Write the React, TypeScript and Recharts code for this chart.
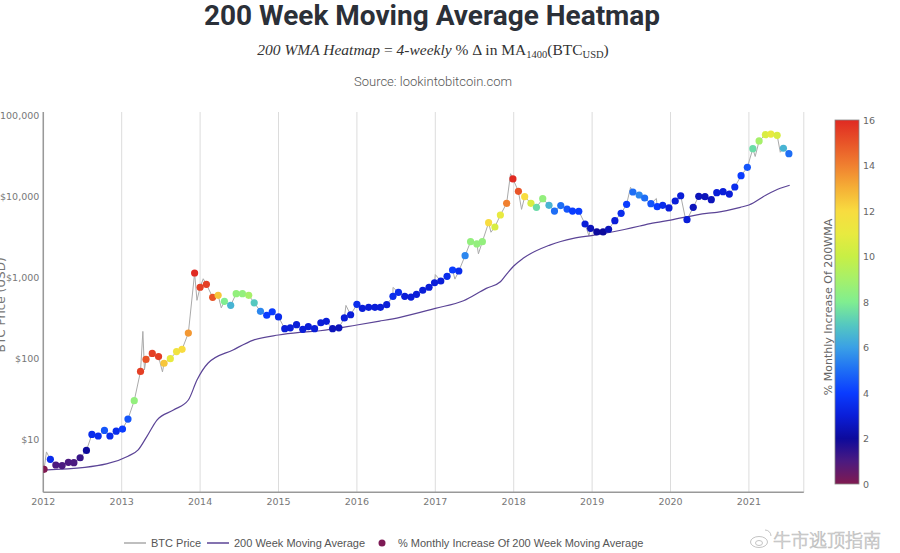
import { ComposedChart, Line, Scatter, XAxis, YAxis, CartesianGrid, Cell } from 'recharts'

// 4-weekly samples of the 200WMA heatmap (decimal year)
const dotDates = [
  2012.01, 2012.09, 2012.16, 2012.24, 2012.32, 2012.39, 2012.47, 2012.55, 2012.62, 2012.70, 2012.78, 2012.85, 2012.93,
  2013.01, 2013.08, 2013.16, 2013.24, 2013.31, 2013.39, 2013.47, 2013.54, 2013.62, 2013.70, 2013.77, 2013.85, 2013.93,
  2014.00, 2014.08, 2014.16, 2014.23, 2014.31, 2014.39, 2014.46, 2014.54, 2014.62, 2014.69, 2014.77, 2014.85, 2014.92,
  2015.00, 2015.08, 2015.15, 2015.23, 2015.31, 2015.38, 2015.46, 2015.54, 2015.61, 2015.69, 2015.77, 2015.84, 2015.92,
  2016.00, 2016.07, 2016.15, 2016.23, 2016.30, 2016.38, 2016.46, 2016.53, 2016.61, 2016.69, 2016.76, 2016.84, 2016.92,
  2016.99, 2017.07, 2017.15, 2017.22, 2017.30, 2017.38, 2017.45, 2017.53, 2017.60, 2017.68, 2017.76, 2017.83, 2017.91,
  2017.99, 2018.06, 2018.14, 2018.22, 2018.29, 2018.37, 2018.45, 2018.52, 2018.60, 2018.68, 2018.75, 2018.83, 2018.91,
  2018.98, 2019.06, 2019.14, 2019.21, 2019.29, 2019.37, 2019.44, 2019.52, 2019.60, 2019.67, 2019.75, 2019.83, 2019.90,
  2019.98, 2020.06, 2020.13, 2020.21, 2020.29, 2020.36, 2020.44, 2020.52, 2020.59, 2020.67, 2020.75, 2020.82, 2020.90,
  2020.98, 2021.05, 2021.13, 2021.21, 2021.28, 2021.36, 2021.44, 2021.51,
]
const dotPrices = [
  4.26, 5.66, 4.82, 4.75, 5.2, 5.15, 5.93, 7.3, 11.5, 11.0, 12.9, 11.0, 12.6,
  13.4, 17.8, 30, 69, 97, 115, 105, 87, 99, 121, 129, 205, 1130,
  754, 820, 566, 599, 505, 451, 628, 628, 600, 485, 380, 340, 376,
  324, 232, 238, 260, 228, 246, 232, 275, 286, 232, 238, 315, 345,
  464, 414, 426, 426, 426, 459, 582, 653, 582, 571, 617, 692, 754,
  857, 900, 1028, 1231, 1197, 1849, 2755, 2580, 2755, 4720, 4180, 5880, 8200,
  16370, 11530, 9890, 8200, 7310, 9340, 7740, 6580, 7680, 6960, 6580, 6540, 4550,
  4030, 3630, 3630, 3920, 5000, 6160, 7960, 11300, 10380, 9530, 8110, 7450, 7740,
  7180, 8750, 10160, 5140, 7310, 10000, 9900, 9080, 11100, 11400, 10660, 13030, 17950,
  22800, 38700, 48200, 57600, 58700, 56600, 39200, 33600,
]
const dotPct = [
  0, 3.5, 1, 1, 1, 1, 1.3, 2, 3.5, 3.5, 4.5, 3.5, 3.5,
  4, 4.5, 8.5, 15.5, 15, 15.5, 15.5, 12.5, 11, 11.5, 12, 13.5, 16,
  15.5, 15.5, 15, 12.5, 8, 6.5, 8.5, 8.5, 9, 7, 5.5, 4, 4,
  3.5, 3, 3, 3, 3, 3, 3, 3, 3, 2.5, 2.5, 3, 3,
  3.5, 3, 3, 3, 3, 3, 3.5, 3.5, 3, 3, 3, 3, 3,
  3, 3, 3.5, 4, 3.5, 5.5, 8.5, 8.5, 8.5, 12, 10.5, 11, 14,
  16, 15, 12, 10.5, 7.5, 8.5, 6.5, 5, 5, 4.5, 4, 4, 3,
  2.5, 2, 2, 2.5, 3, 3.5, 4, 5, 5.5, 5, 4.5, 4, 3.5,
  3, 3, 3, 3, 2.5, 2.5, 2.5, 2.5, 3, 3, 3, 3.5, 4,
  4.5, 7.5, 9, 10.5, 11, 10.5, 6.5, 5,
]

// extra highs / lows of the weekly price line between the samples
const priceExtraDates = [
  2012.04, 2013.27, 2013.29, 2013.52, 2013.96, 2014.04, 2014.27, 2015.86, 2016.46, 2017.0, 2017.25,
  2017.55, 2017.71, 2017.96, 2018.1, 2018.96, 2019.49, 2019.82, 2020.2, 2021.08, 2021.29, 2021.4,
]
const priceExtras = [
  7.0, 215, 72, 68, 520, 960, 420, 450, 750, 1080, 950,
  1950, 3600, 19000, 6900, 3250, 12900, 9400, 4800, 31000, 63000, 35000,
]

const wmaDates = [
  2012.0, 2012.53, 2013.08, 2013.21, 2013.32, 2013.45, 2013.66, 2013.85, 2013.96, 2014.1, 2014.42, 2014.68,
  2015.0, 2015.27, 2015.53, 2016.0, 2016.29, 2016.55, 2017.0, 2017.36, 2017.65, 2017.83, 2017.9, 2018.0,
  2018.12, 2018.46, 2018.76, 2019.01, 2019.27, 2019.61, 2019.74, 2020.0, 2020.46, 2020.59, 2020.89, 2021.0,
  2021.22, 2021.4, 2021.52,
]
const wmaValues = [
  4.18, 4.5, 6.2, 7.4, 10.8, 17.3, 23, 30.6, 54, 87, 127, 168,
  194, 209, 219, 258, 288, 321, 414, 514, 731, 883, 1067, 1380,
  1717, 2500, 3030, 3300, 3650, 4300, 4600, 5090, 6170, 6340, 7310, 7810,
  10370, 12560, 13680,
]

const yearTicks = [2012, 2013, 2014, 2015, 2016, 2017, 2018, 2019, 2020, 2021]
const priceTicks = [10, 100, 1000, 10000, 100000]
const pctTicks = [0, 2, 4, 6, 8, 10, 12, 14, 16]

const colorStops: [number, string][] = [
  [0, '#801a50'], [1, '#4b1a80'], [2, '#0d0a9c'], [3, '#0a1ed8'], [4, '#0a3cff'],
  [5, '#1e6ef5'], [6, '#3aa0e6'], [7, '#55c8c0'], [8, '#80ee90'], [9, '#a6f06a'],
  [10, '#c8ef45'], [11, '#e8ea40'], [12, '#f8dc40'], [13, '#f5b036'], [14, '#f08030'],
  [15, '#e85428'], [16, '#e02a22'],
]

function pctColor(v: number) {
  const t = Math.max(0, Math.min(16, v))
  for (let i = 0; i < colorStops.length - 1; i++) {
    const [a, ca] = colorStops[i]
    const [b, cb] = colorStops[i + 1]
    if (t <= b) {
      const f = (t - a) / (b - a)
      const pa = [1, 3, 5].map((k) => parseInt(ca.slice(k, k + 2), 16))
      const pb = [1, 3, 5].map((k) => parseInt(cb.slice(k, k + 2), 16))
      return `rgb(${pa.map((c, j) => Math.round(c + (pb[j] - c) * f)).join(',')})`
    }
  }
  return colorStops[colorStops.length - 1][1]
}

const dotData = dotDates.map((d, i) => ({ date: d, price: dotPrices[i], pct: dotPct[i] }))
const priceData = [
  ...dotDates.map((d, i) => ({ date: d, price: dotPrices[i] })),
  ...priceExtraDates.map((d, i) => ({ date: d, price: priceExtras[i] })),
].sort((a, b) => a.date - b.date)
const wmaData = wmaDates.map((d, i) => ({ date: d, price: wmaValues[i] }))

const fmtPrice = (v: number) => '$' + v.toLocaleString('en-US')

const tickStyle = { fontSize: 9.5, fill: '#777', fontFamily: 'DejaVu Sans' }

// colorbar geometry
const cbX = 835
const cbTop = 120
const cbBottom = 484
const cbY = (v: number) => cbBottom - (v / 16) * (cbBottom - cbTop)

export default function App() {
  return (
    <div style={{ position: 'absolute', left: 0, top: 0, width: 900, height: 553, background: '#fff', overflow: 'hidden' }}>
      <ComposedChart width={900} height={553} margin={{ top: 112, right: 96.2, bottom: 30.7, left: 0 }}>
        <CartesianGrid horizontal={false} stroke="#dcdcdc" strokeWidth={1} />
        <XAxis
          dataKey="date"
          type="number"
          domain={[2012, 2021.7]}
          allowDataOverflow
          ticks={yearTicks}
          tickFormatter={(v) => String(v)}
          tick={tickStyle}
          tickLine={false}
          tickSize={0}
          tickMargin={6}
          height={30}
          axisLine={{ stroke: '#999', strokeWidth: 1.5 }}
        />
        <YAxis
          type="number"
          scale="log"
          domain={[2.22, 109800]}
          allowDataOverflow
          ticks={priceTicks}
          tickFormatter={fmtPrice}
          tick={tickStyle}
          tickLine={false}
          tickSize={0}
          tickMargin={4}
          width={43.3}
          axisLine={{ stroke: '#999', strokeWidth: 1.5 }}
        />
        <Line
          data={priceData}
          dataKey="price"
          type="linear"
          stroke="#aaaaaa"
          strokeWidth={1}
          dot={false}
          isAnimationActive={false}
        />
        <Line
          data={wmaData}
          dataKey="price"
          type="monotone"
          stroke="#5b4496"
          strokeWidth={1.2}
          dot={false}
          isAnimationActive={false}
        />
        <Scatter
          data={dotData}
          dataKey="price"
          isAnimationActive={false}
          shape={(p: any) => <circle cx={p.cx} cy={p.cy} r={3.6} fill={p.fill} />}
        >
          {dotData.map((d, i) => (
            <Cell key={i} fill={pctColor(d.pct)} />
          ))}
        </Scatter>
      </ComposedChart>

      <svg width={900} height={553} style={{ position: 'absolute', left: 0, top: 0, pointerEvents: 'none' }}>
        <defs>
          <linearGradient id="cb" x1="0" y1="1" x2="0" y2="0">
            {colorStops.map(([v, c]) => (
              <stop key={v} offset={`${(v / 16) * 100}%`} stopColor={c} />
            ))}
          </linearGradient>
        </defs>

        <text x={432} y={25} textAnchor="middle" fontFamily="Roboto" fontWeight={700} fontSize={28} fill="#2b3038">
          200 Week Moving Average Heatmap
        </text>
        <text x={433} y={55} textAnchor="middle" fontFamily="Liberation Serif" fontSize={15.5} fill="#333">
          <tspan fontStyle="italic">200 WMA Heatmap</tspan>
          <tspan> = </tspan>
          <tspan fontStyle="italic">4-weekly</tspan>
          <tspan> % Δ in MA</tspan>
          <tspan fontSize={10.5} dy={3}>1400</tspan>
          <tspan dy={-3}>(BTC</tspan>
          <tspan fontSize={10.5} dy={3}>USD</tspan>
          <tspan dy={-3}>)</tspan>
        </text>
        <text x={433} y={86} textAnchor="middle" fontFamily="Roboto" fontWeight={300} fontSize={13} fill="#555">
          Source: lookintobitcoin.com
        </text>

        <text x={5} y={305} transform="rotate(-90 5 305)" textAnchor="middle" fontFamily="DejaVu Sans" fontSize={12} fill="#777">
          BTC Price (USD)
        </text>

        <rect x={cbX} y={cbTop} width={24} height={cbBottom - cbTop} fill="url(#cb)" stroke="#888" strokeWidth={0.8} />
        {pctTicks.map((v) => (
          <text key={v} x={863} y={cbY(v) + 3.5} fontFamily="DejaVu Sans" fontSize={9.5} fill="#666">
            {v}
          </text>
        ))}
        <text x={832} y={307} transform="rotate(-90 832 307)" textAnchor="middle" fontFamily="DejaVu Sans" fontSize={11} fill="#666">
          % Monthly Increase Of 200WMA
        </text>

        <g fontFamily="Liberation Sans" fontSize={11} fill="#555">
          <line x1={124} y1={543} x2={146} y2={543} stroke="#aaa" strokeWidth={1.5} />
          <text x={151} y={547}>BTC Price</text>
          <line x1={207} y1={543} x2={229} y2={543} stroke="#5b4496" strokeWidth={1.5} />
          <text x={234} y={547}>200 Week Moving Average</text>
          <circle cx={382} cy={543} r={3.5} fill="#7d1a55" />
          <text x={398} y={547}>% Monthly Increase Of 200 Week Moving Average</text>
        </g>

        <g stroke="#c4c4c4" strokeWidth={1} fill="none">
          <ellipse cx={759} cy={542} rx={8.5} ry={5.5} />
          <ellipse cx={759} cy={543} rx={3.5} ry={2.5} />
          <path d="M765 530 a6 6 0 0 1 6 6" />
        </g>
        <text x={773} y={547} fontFamily="Noto Sans CJK SC" fontWeight={300} fontSize={18} fill="#fff" stroke="#c0c0c0" strokeWidth={0.7}>
          牛市逃顶指南
        </text>
      </svg>
    </div>
  )
}
